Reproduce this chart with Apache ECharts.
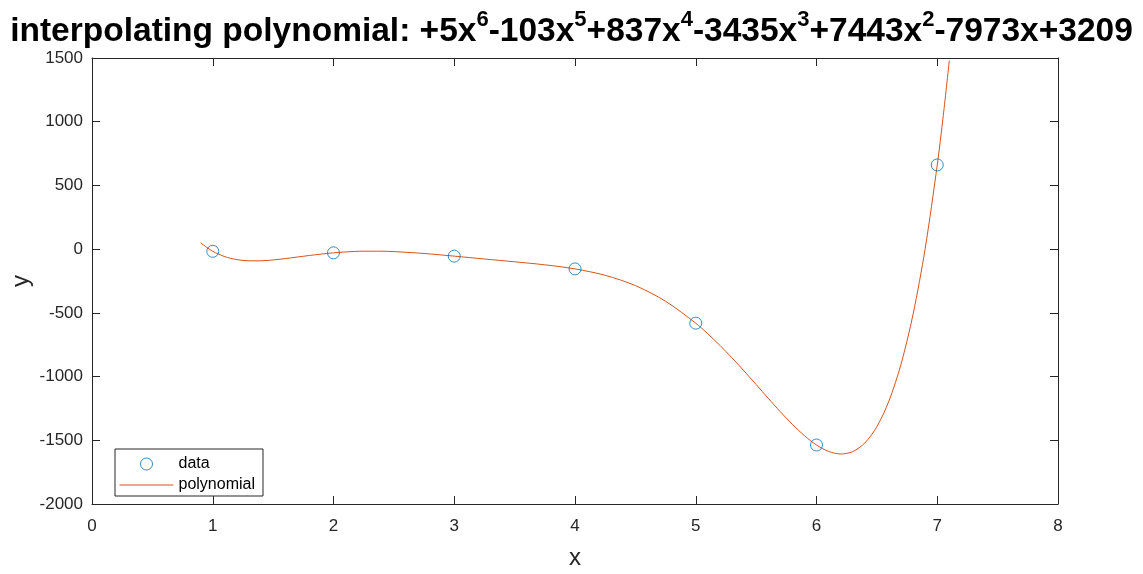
<!DOCTYPE html>
<html>
<head>
<meta charset="utf-8">
<script src="https://cdn.jsdelivr.net/npm/echarts@6/dist/echarts.min.js"></script>
<style>
  html, body { margin: 0; padding: 0; background: #fff; }
  #chart { width: 1143px; height: 574px; }
</style>
</head>
<body>
<div id="chart"></div>
<script>
// Polynomial coefficients shown in the title (highest power first)
const coefficients = [5, -103, 837, -3435, 7443, -7973, 3209];

// Data points (circles)
const dataX = [1, 2, 3, 4, 5, 6, 7];
const dataY = [-17, -29, -55, -155, -581, -1537, 661];

// Interpolating polynomial curve
const curveX = [0.9, 1.0, 1.1, 1.2, 1.3, 1.4, 1.5, 1.6, 1.7, 1.8, 1.9, 2.0, 2.1, 2.25, 2.4, 2.5, 2.75,
  3.0, 3.25, 3.5, 3.75, 4.0, 4.25, 4.5, 4.75, 5.0, 5.1, 5.2, 5.3, 5.4, 5.5, 5.6, 5.7, 5.8, 5.9,
  6.0, 6.1, 6.2, 6.3, 6.4, 6.5, 6.6, 6.7, 6.8, 6.9, 7.0, 7.05, 7.1];
const curveY = [49, -17, -58.8, -82.1, -91.7, -91.5, -84.8, -74.3, -62.0, -49.7, -38.4, -29, -21.9, -16.2, -16.3, -19.2, -34.0,
  -55, -77.3, -99.3, -123.0, -155, -205.3, -286.0, -408.6, -581, -664.3, -755.2, -852.8, -955.8, -1062.3, -1169.8, -1275.3, -1374.9, -1464.0,
  -1537, -1587.4, -1607.7, -1589.0, -1521.3, -1393.2, -1191.9, -902.9, -510.0, 4.7, 661, 1049.1, 1480.9];

// Axis ticks
const xTicks = { min: 0, max: 8, interval: 1 };
const yTicks = { min: -2000, max: 1500, interval: 500 };

const seriesNames = ['data', 'polynomial'];

// Build title with superscripts
function buildTitle(c) {
  const deg = c.length - 1;
  let s = 'interpolating polynomial: ';
  c.forEach((v, i) => {
    const p = deg - i;
    const sign = v >= 0 ? '+' : '-';
    s += sign + Math.abs(v);
    if (p >= 2) s += 'x{sup|' + p + '}';
    else if (p === 1) s += 'x';
  });
  return s;
}

const axisColor = '#262626';
const font = '"Liberation Sans", Arial, Helvetica, sans-serif';

const chart = echarts.init(document.getElementById('chart'), null, { renderer: 'canvas' });

function baseAxis(extra) {
  return Object.assign({
    type: 'value',
    axisLine: { show: true, onZero: false, lineStyle: { color: axisColor, width: 1 } },
    axisTick: { show: true, inside: true, length: 8, lineStyle: { color: axisColor, width: 1 } },
    splitLine: { show: false }
  }, extra);
}

const labelFmt = v => String(v);

const option = {
  backgroundColor: '#fff',
  animation: false,
  title: {
    text: buildTitle(coefficients),
    left: 'center',
    top: 9,
    padding: 0,
    textStyle: {
      fontSize: 33.5, fontWeight: 'bold', color: '#000', fontFamily: font, lineHeight: 46,
      rich: {
        sup: { fontSize: 22, fontWeight: 'bold', color: '#000', fontFamily: font, verticalAlign: 'top', lineHeight: 20 }
      }
    }
  },
  grid: { left: 92, right: 85, top: 58, bottom: 70, containLabel: false, outerBoundsMode: 'none' },
  xAxis: [
    baseAxis({
      position: 'bottom', min: xTicks.min, max: xTicks.max, interval: xTicks.interval,
      name: 'x', nameLocation: 'middle', nameGap: 42,
      nameTextStyle: { fontSize: 24, color: axisColor, fontFamily: font },
      axisLabel: { color: axisColor, fontSize: 17, fontFamily: font, margin: 14, formatter: labelFmt }
    }),
    baseAxis({
      position: 'top', min: xTicks.min, max: xTicks.max, interval: xTicks.interval,
      axisLabel: { show: false }
    })
  ],
  yAxis: [
    baseAxis({
      position: 'left', min: yTicks.min, max: yTicks.max, interval: yTicks.interval,
      name: 'y', nameLocation: 'middle', nameGap: 59, nameRotate: 90, nameMoveOverlap: false,
      nameTextStyle: { fontSize: 24, color: axisColor, fontFamily: font },
      axisLabel: { color: axisColor, fontSize: 17, fontFamily: font, margin: 9, formatter: labelFmt }
    }),
    baseAxis({
      position: 'right', min: yTicks.min, max: yTicks.max, interval: yTicks.interval,
      axisLabel: { show: false }
    })
  ],
  legend: {
    orient: 'vertical',
    left: 115, top: 449,
    backgroundColor: '#fff',
    borderColor: axisColor, borderWidth: 1, borderRadius: 0,
    padding: [7, 8, 3, 4],
    itemGap: 5,
    itemWidth: 54, itemHeight: 12,
    textStyle: { fontSize: 16, color: '#000', fontFamily: font },
    data: [
      { name: seriesNames[0], icon: 'circle', itemStyle: { color: 'rgba(0,0,0,0)', borderColor: '#0072BD', borderWidth: 1 } },
      { name: seriesNames[1],
        itemStyle: { color: 'rgba(0,0,0,0)', borderColor: 'rgba(0,0,0,0)', borderWidth: 0 },
        lineStyle: { color: '#D95319', width: 1 } }
    ]
  },
  series: [
    {
      name: seriesNames[0],
      type: 'scatter',
      xAxisIndex: 0, yAxisIndex: 0,
      symbol: 'circle', symbolSize: 12,
      itemStyle: { color: 'rgba(0,0,0,0)', borderColor: '#0072BD', borderWidth: 1 },
      data: dataX.map((x, i) => [x, dataY[i]]),
      z: 3
    },
    {
      name: seriesNames[1],
      type: 'line',
      xAxisIndex: 0, yAxisIndex: 0,
      symbol: 'none', showSymbol: false,
      smooth: 0.3,
      clip: true,
      lineStyle: { color: '#D95319', width: 1 },
      itemStyle: { color: '#D95319' },
      data: curveX.map((x, i) => [x, curveY[i]]),
      z: 2
    }
  ]
};

chart.setOption(option);
</script>
</body>
</html>
